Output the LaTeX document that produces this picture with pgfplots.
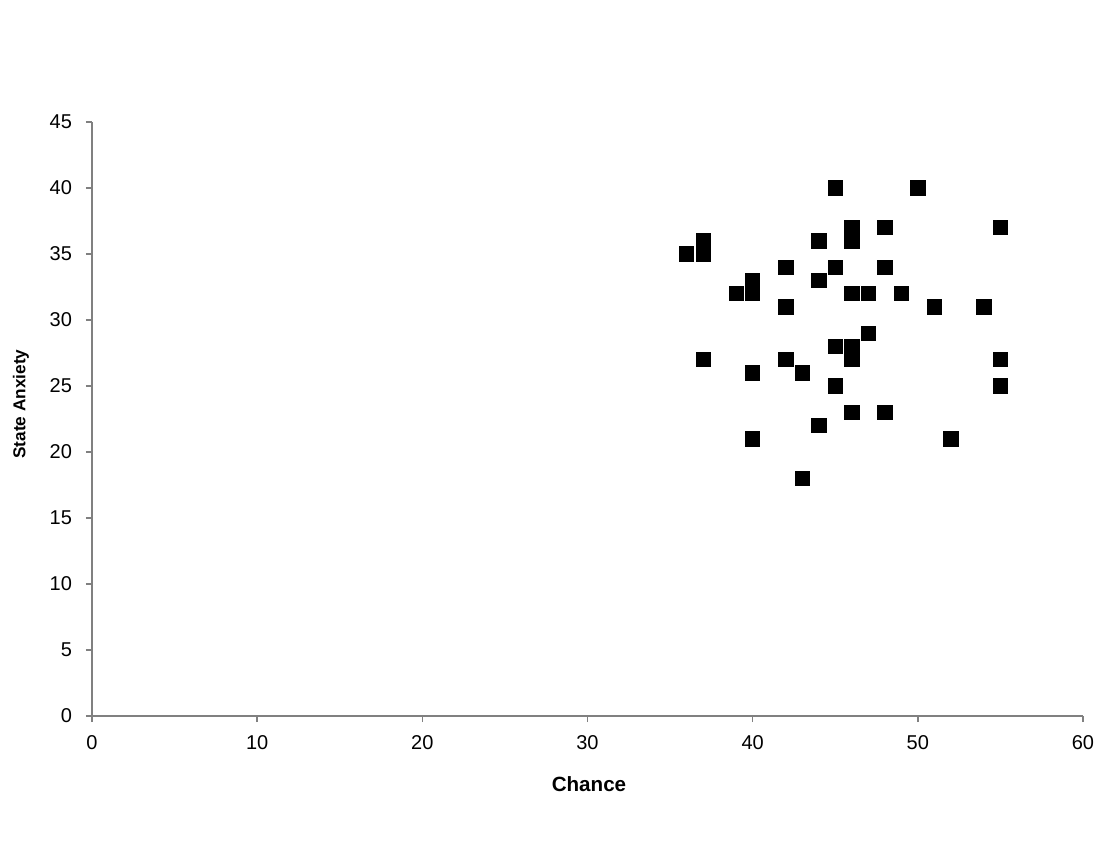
\documentclass[border=0pt]{standalone}
\usepackage{fontspec}
\setmainfont{Liberation Sans}
\usepackage{pgfplots}
\pgfplotsset{compat=1.18}
\begin{document}
\begin{tikzpicture}
\path[use as bounding box] (-46pt,-68.5pt) rectangle (507.5pt,358pt);
\begin{axis}[
  at={(0,0)}, anchor=south west,
  scale only axis, width=495.5pt, height=297pt,
  xmin=0, xmax=60, ymin=0, ymax=45,
  xtick={0,10,...,60}, ytick={0,5,...,45},
  axis x line*=bottom, axis y line*=left,
  axis line style={draw=black!50, line width=0.8pt, -},
  tick style={draw=black!50, line width=0.8pt},
  tick align=outside, major tick length=3pt,
  /pgf/number format/assume math mode=true,
  ticklabel style={font=\fontsize{10pt}{12pt}\selectfont},
  xticklabel style={yshift=-3.3pt},
  yticklabel style={xshift=-3.5pt},
  xlabel={\textbf{Chance}}, ylabel={\textbf{State Anxiety}},
  xlabel style={font=\fontsize{10.3pt}{12pt}\selectfont, at={(axis description cs:0.5015,-0.1153)}, anchor=center},
  ylabel style={font=\fontsize{8.6pt}{10pt}\selectfont, at={(axis description cs:-0.0716,0.525)}, anchor=center},
  clip=false,
]
\addplot[only marks, mark=square*, mark size=3.6pt, mark options={fill=black, draw=black}] coordinates {
(36,35) (37,36) (37,35) (37,27) (39,32) (40,33) (40,32) (40,26) (40,21)
(42,34) (42,31) (42,27) (43,26) (43,18) (44,36) (44,33) (44,22)
(45,40) (45,34) (45,28) (45,25) (46,37) (46,36) (46,32) (46,28) (46,27) (46,23)
(47,32) (47,29) (48,37) (48,34) (48,23) (49,32) (50,40) (51,31) (52,21)
(54,31) (55,37) (55,27) (55,25)
};
\end{axis}
\end{tikzpicture}
\end{document}
